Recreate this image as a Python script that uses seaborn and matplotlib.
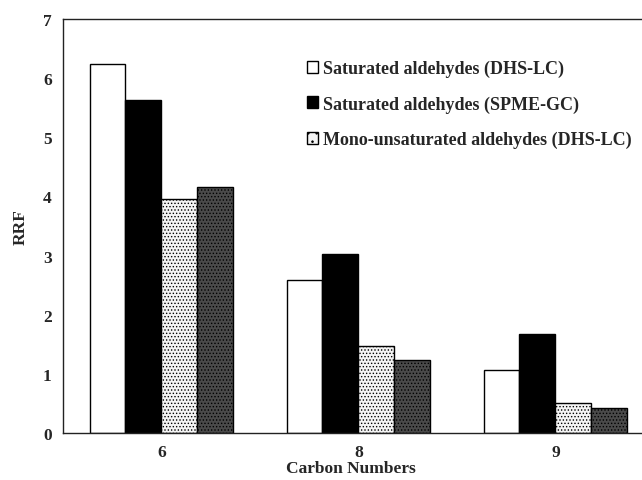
import matplotlib
matplotlib.use("Agg")
import matplotlib.pyplot as plt
import seaborn as sns
import pandas as pd

carbon = ["6", "8", "9"]
series = [
    "Saturated aldehydes (DHS-LC)",
    "Saturated aldehydes (SPME-GC)",
    "Mono-unsaturated aldehydes (DHS-LC)",
    "Mono-unsaturated aldehydes (SPME-GC)",
]
sat_dhs = [6.24, 2.58, 1.06]
sat_spme = [5.63, 3.03, 1.67]
mono_dhs = [3.96, 1.47, 0.50]
mono_spme = [4.16, 1.24, 0.43]

rows = []
for name, vals in zip(series, [sat_dhs, sat_spme, mono_dhs, mono_spme]):
    for c, v in zip(carbon, vals):
        rows.append({"Carbon": c, "Series": name, "RRF": v})
df = pd.DataFrame(rows)

sns.set_style("white")
plt.rcParams["font.family"] = ["Liberation Serif", "DejaVu Serif"]
plt.rcParams["font.weight"] = "bold"
plt.rcParams["hatch.linewidth"] = 0.6

fig = plt.figure(figsize=(6.42, 4.81), dpi=100)
ax = fig.add_axes([0.098, 0.0977, 0.9206, 0.8607])

sns.barplot(data=df, x="Carbon", y="RRF", hue="Series", order=carbon,
            hue_order=series, width=0.73, ax=ax, errorbar=None,
            palette=["white", "black", "white", "#555555"],
            edgecolor="black", linewidth=1.0, saturation=1)

styles = [("white", None), ("black", None), ("#f4f4f4", "....."), ("#4a4a4a", ".....")]
for cont, (fc, hatch) in zip(ax.containers, styles):
    for p in cont:
        p.set_facecolor(fc)
        p.set_edgecolor("black")
        if hatch:
            p.set_hatch(hatch)

handles, labels = ax.get_legend_handles_labels()
for h, (fc, hatch) in zip(handles, styles):
    h.set_facecolor(fc)
    h.set_edgecolor("black")
    if hatch:
        h.set_hatch("..")
ax.legend(handles[:3], labels[:3], loc="upper left", bbox_to_anchor=(0.385, 0.94),
          frameon=False, handlelength=0.65, handleheight=0.65, handletextpad=0.25,
          labelspacing=1.0, prop={"size": 13, "weight": "bold"})

ax.set_ylim(0, 7)
ax.set_xlim(-0.5, 2.5)
ax.set_yticks(range(0, 8))
ax.tick_params(axis="both", length=0, labelsize=12.5, pad=8)
ax.set_ylabel("RRF", fontsize=12.5, fontweight="bold", labelpad=10)
ax.set_xlabel("Carbon Numbers", fontsize=12.5, fontweight="bold", labelpad=1)
ax.xaxis.set_label_coords(0.487, -0.065)
for s in ["left", "top", "bottom"]:
    ax.spines[s].set_color("#222222")
    ax.spines[s].set_linewidth(1.0)
ax.spines["right"].set_visible(False)

fig.savefig("out.png", dpi=100)
